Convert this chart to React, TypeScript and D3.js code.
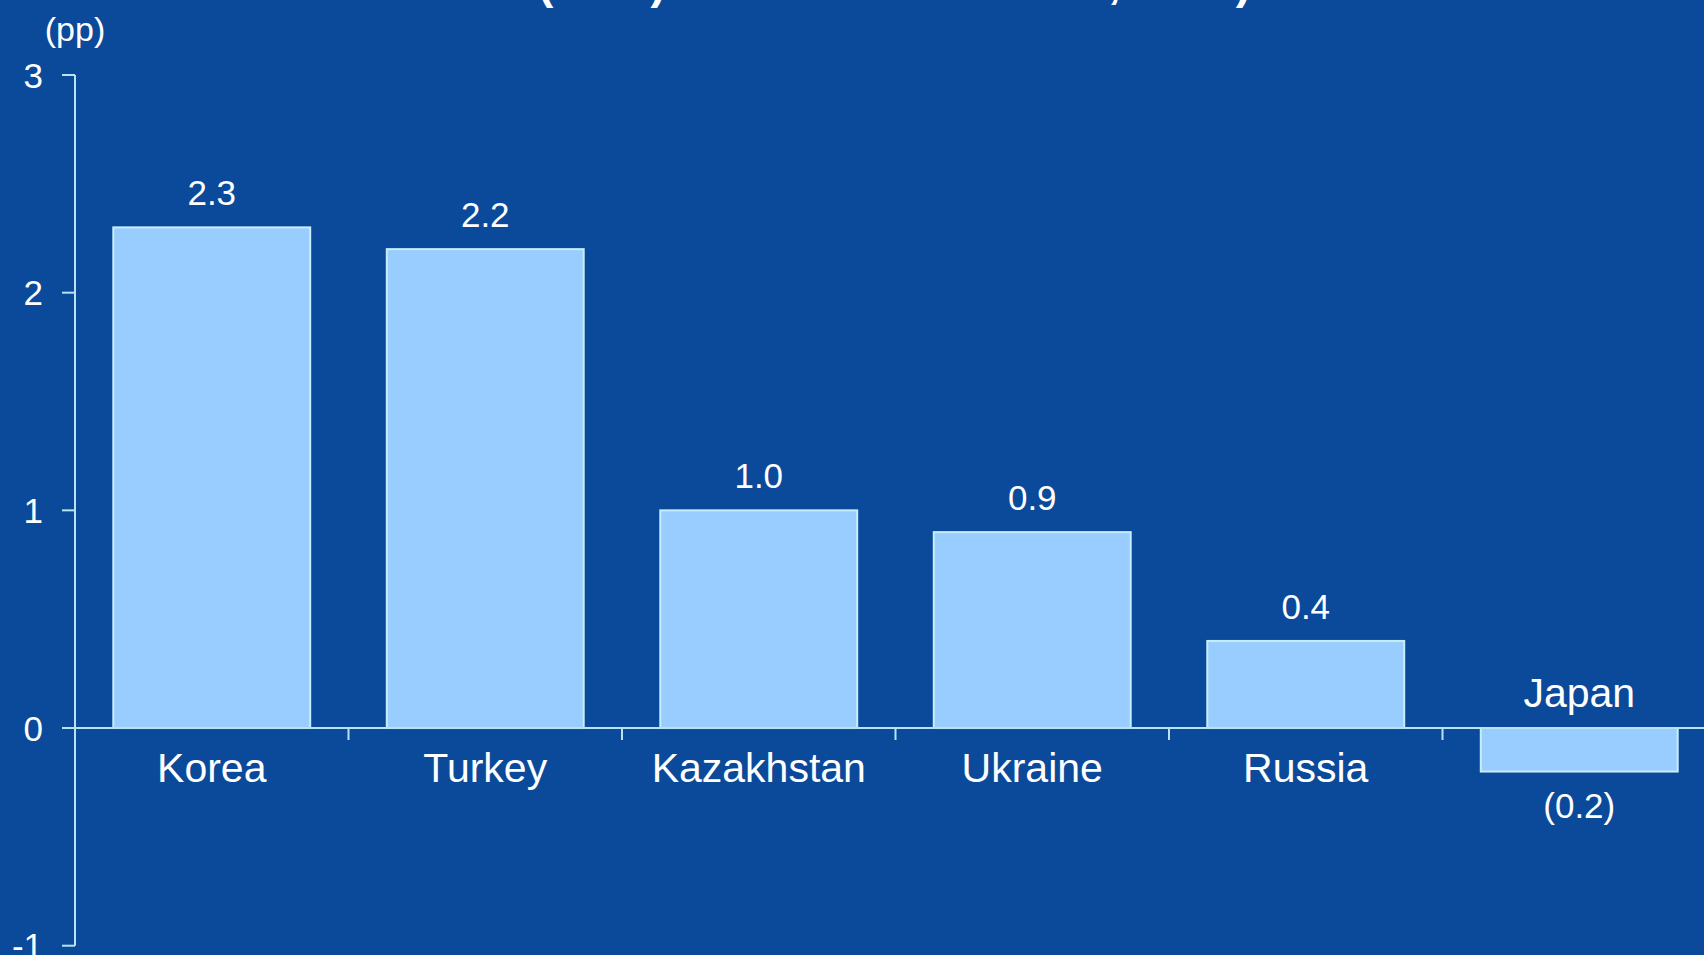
import React from "react";
import * as d3 from "d3";

const categories = ["Korea", "Turkey", "Kazakhstan", "Ukraine", "Russia", "Japan"];
const values = [2.3, 2.2, 1.0, 0.9, 0.4, -0.2];
const valueLabels = ["2.3", "2.2", "1.0", "0.9", "0.4", "(0.2)"];
const yTicks = [-1, 0, 1, 2, 3];
const unitLabel = "(pp)";
const titleText = "(ECB) ADDITION TO DEBT, 2015)";

const W = 1704;
const H = 955;
const BG = "#0B4A9A";
const BAR = "#99CCFF";
const BAR_STROKE = "#C6EEF8";
const AXIS = "#B8E4F2";
const FONT = "'Liberation Sans', Arial, Helvetica, sans-serif";

export default function App() {
  const y = d3.scaleLinear().domain([-1, 3]).range([945.7, 75]);
  const x = d3
    .scaleBand<string>()
    .domain(categories)
    .range([75, 75 + 273.5 * 6])
    .paddingInner(0.28)
    .paddingOuter(0.14);
  const step = x.step();
  const y0 = y(0);

  return (
    <svg
      width={W}
      height={H}
      style={{ position: "absolute", left: 0, top: 0, display: "block", overflow: "hidden" }}
      fontFamily={FONT}
    >
      <rect x={0} y={0} width={W} height={H} fill={BG} />
      {/* title, mostly cut off at top */}
      <text x={538} y={-2} fill="#fff" fontSize={46} fontWeight="bold">
        {titleText}
      </text>
      {/* unit label */}
      <text x={75} y={41} fill="#fff" fontSize={34} textAnchor="middle">
        {unitLabel}
      </text>
      {/* bars */}
      {categories.map((c, i) => {
        const v = values[i];
        const top = y(Math.max(0, v));
        const bottom = y(Math.min(0, v));
        return (
          <rect
            key={c}
            x={x(c)!}
            y={top}
            width={x.bandwidth()}
            height={bottom - top}
            fill={BAR}
            stroke={BAR_STROKE}
            strokeWidth={2}
          />
        );
      })}
      {/* y axis */}
      <line x1={75} x2={75} y1={y(3)} y2={y(-1)} stroke={AXIS} strokeWidth={2} />
      {yTicks.map((t) => (
        <g key={t}>
          <line x1={62} x2={75} y1={y(t)} y2={y(t)} stroke={AXIS} strokeWidth={2} />
          <text
            x={43}
            y={y(t)}
            dy="0.36em"
            fill="#fff"
            fontSize={35}
            textAnchor="end"
          >
            {t}
          </text>
        </g>
      ))}
      {/* zero line */}
      <line x1={62} x2={W} y1={y0} y2={y0} stroke={AXIS} strokeWidth={2} />
      {/* category boundary ticks */}
      {categories.slice(1).map((c) => {
        const bx = x(c)! - (step * 0.28) / 2;
        return <line key={c} x1={bx} x2={bx} y1={y0} y2={y0 + 12} stroke={AXIS} strokeWidth={2} />;
      })}
      {/* category labels */}
      {categories.map((c, i) => {
        const cx = x(c)! + x.bandwidth() / 2;
        const neg = values[i] < 0;
        return (
          <text
            key={c}
            x={cx}
            y={neg ? y0 - 21 : y0 + 54}
            fill="#fff"
            fontSize={41}
            textAnchor="middle"
          >
            {c}
          </text>
        );
      })}
      {/* value labels */}
      {categories.map((c, i) => {
        const cx = x(c)! + x.bandwidth() / 2;
        const v = values[i];
        const ly = v >= 0 ? y(v) - 22 : y(v) + 46;
        return (
          <text key={c} x={cx} y={ly} fill="#fff" fontSize={35} textAnchor="middle">
            {valueLabels[i]}
          </text>
        );
      })}
    </svg>
  );
}
